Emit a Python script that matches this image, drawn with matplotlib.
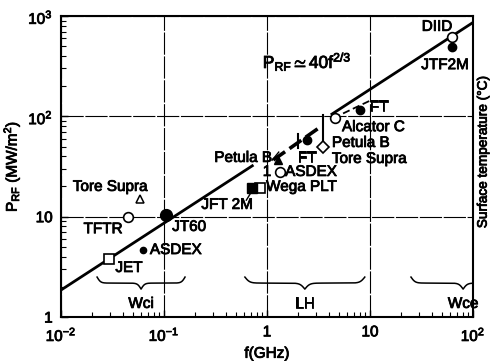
import numpy as np
import matplotlib.pyplot as plt
import matplotlib.patheffects as pe

plt.rcParams['font.family'] = ['Liberation Sans', 'DejaVu Sans']
plt.rcParams['mathtext.fontset'] = 'custom'
plt.rcParams['mathtext.rm'] = 'Liberation Sans'
plt.rcParams['mathtext.it'] = 'Liberation Sans'
plt.rcParams['mathtext.default'] = 'regular'
plt.rcParams['font.size'] = 11

# slightly heavier strokes for all text
heavy = [pe.withStroke(linewidth=0.6, foreground='k')]

# power density scaling P_RF ~ 40 f^(2/3)
fit_coef = 40.0
fit_exp = 2.0 / 3.0

# experiments: frequency (GHz), heat flux (MW/m^2)
open_circle_f = [0.045, 1.34, 4.57, 62.5]        # TFTR, ASDEX (LH), Alcator C, DIID
open_circle_p = [10.0, 28.0, 96.0, 620.0]
filled_circle_f = [0.105, 2.45, 8.0, 62.5]       # JT60, FT, FT, JTF2M
filled_circle_p = [10.5, 58.0, 116.0, 490.0]
asdex_icrf_f, asdex_icrf_p = 0.0625, 4.7
open_square_f = [0.029, 0.86]                    # JET, Wega PLT
open_square_p = [3.8, 19.5]
jft2m_f, jft2m_p = 0.72, 19.5
tore_icrf_f, tore_icrf_p = 0.058, 15.0
petula_lh_f, petula_lh_p = 1.28, 37.0
tore_lh_f, tore_lh_p = 3.5, 49.5

# ranges
ft_low_range_f = [1.15, 3.27]
ft_low_range_p = [36.7, 78.0]
ft_high_range_f = [4.4, 10.4]
ft_high_range_p = [96.0, 146.0]
ft_bar_f, ft_bar_p = 2.0, [48.0, 66.0]
petula_bar_f, petula_bar_p = 3.5, [52.0, 103.0]

x_ticks = [0.01, 0.1, 1, 10, 100]
x_tick_labels = ['$10^{-2}$', '$10^{-1}$', '1', '10', '$10^{2}$']
y_ticks = [1, 10, 100, 1000]
y_tick_labels = ['1', '10', '$10^{2}$', '$10^{3}$']

bands = ['Wci', 'LH', 'Wce']
band_lo = [0.0224, 0.61, 25.0]
band_hi = [0.16, 8.9, 257.0]


def brace(ax, f0, f1, p_top, depth=0.12, beta=50):
    u = np.linspace(0, 1, 401)
    uh = u[:201]
    yh = 1 / (1 + np.exp(-beta * (uh - uh[0]))) + 1 / (1 + np.exp(-beta * (uh - uh[-1])))
    y = np.concatenate([yh, yh[-2::-1]])
    logf = np.log10(f0) + u * np.log10(f1 / f0)
    logp = np.log10(p_top) - depth * (y - 0.5)
    ax.plot(10 ** logf, 10 ** logp, color='k', lw=1.1)


fig = plt.figure(figsize=(4.9, 3.61), dpi=100)
ax = fig.add_axes([0.1245, 0.1219, 0.8408, 0.8338])
ax.set_xscale('log')
ax.set_yscale('log')
ax.set_xlim(0.01, 100)
ax.set_ylim(1, 1000)

ax.grid(which='major', color='k', lw=0.8, ls=(0, (20, 1.5)))
for s in ax.spines.values():
    s.set_linewidth(1.5)

ax.set_xticks(x_ticks)
ax.set_xticklabels(x_tick_labels)
ax.set_yticks(y_ticks)
ax.set_yticklabels(y_tick_labels)
ax.tick_params(which='both', direction='in', top=False, right=False)
ax.tick_params(which='major', length=5, width=1.0, pad=6, labelsize=11)
ax.tick_params(which='minor', length=3.5, width=0.8)
for lab in ax.get_xticklabels() + ax.get_yticklabels():
    lab.set_path_effects(heavy)

# scaling line, broken where the data ranges sit
f_lo = np.logspace(-2, np.log10(0.72), 50)
f_hi = np.logspace(np.log10(4.27), 2, 50)
ax.plot(f_lo, fit_coef * f_lo ** fit_exp, color='k', lw=2.0)
ax.plot(f_hi, fit_coef * f_hi ** fit_exp, color='k', lw=2.0)
ax.plot(ft_low_range_f, ft_low_range_p, color='k', lw=2.6, ls=(0, (4, 1.5)))
ax.plot(ft_high_range_f, ft_high_range_p, color='k', lw=1.3, ls=(0, (4, 2)))
ax.plot([ft_bar_f, ft_bar_f], ft_bar_p, color='k', lw=1.5)
ax.plot([petula_bar_f, petula_bar_f], petula_bar_p, color='k', lw=1.5)

ax.plot(open_circle_f, open_circle_p, 'o', ms=7, mfc='white', mec='k', mew=1.2, ls='none')
ax.plot(filled_circle_f[0], filled_circle_p[0], 'o', ms=8.5, color='k')
ax.plot(filled_circle_f[1:], filled_circle_p[1:], 'o', ms=6, color='k', ls='none')
ax.plot(asdex_icrf_f, asdex_icrf_p, 'o', ms=4.5, color='k')
ax.plot(open_square_f, open_square_p, 's', ms=7, mfc='white', mec='k', mew=1.2, ls='none')
ax.plot(jft2m_f, jft2m_p, 's', ms=7, color='k')
ax.plot(tore_icrf_f, tore_icrf_p, '^', ms=6, mfc='white', mec='k', mew=1.1)
ax.plot(petula_lh_f, petula_lh_p, '^', ms=6, color='k')
ax.plot(tore_lh_f, tore_lh_p, 'D', ms=6, mfc='white', mec='k', mew=1.2)

# leaders
ax.plot([1.12, 1.30], [36.5, 44.0], color='k', lw=1.0)
ax.plot([0.63, 0.69], [14.6, 17.0], color='k', lw=1.0)

labels = [
    ('DIID', 44.7, 780, 'center'),
    ('JTF2M', 53.5, 324, 'center'),
    ('FT', 12.2, 124, 'center'),
    ('Alcator C', 5.35, 78, 'left'),
    ('Petula B', 4.27, 54.3, 'left'),
    ('Tore Supra', 4.27, 37.6, 'left'),
    ('FT', 2.44, 38.5, 'center'),
    ('Petula B', 1.12, 38.5, 'right'),
    ('ASDEX', 1.5, 27.9, 'left'),
    ('1', 1.0, 27.9, 'center'),
    ('Wega PLT', 0.98, 19.8, 'left'),
    ('JFT 2M', 0.41, 13.1, 'center'),
    ('Tore Supra', 0.030, 19.8, 'center'),
    ('TFTR', 0.0256, 7.5, 'center'),
    ('JT60', 0.12, 7.9, 'left'),
    ('ASDEX', 0.073, 4.65, 'left'),
    ('JET', 0.0457, 3.08, 'center'),
]
for txt, x, y, ha in labels:
    ax.text(x, y, txt, ha=ha, va='center', fontsize=11, path_effects=heavy)

ax.text(0.91, 348, r'$P_{RF}\simeq 40f^{2/3}$', ha='left', va='center', fontsize=12.5,
        path_effects=heavy)

for name, lo, hi in zip(bands, band_lo, band_hi):
    brace(ax, lo, hi, 2.5)
    ax.text(np.sqrt(lo * hi), 1.35, name, ha='center', va='center', fontsize=11,
            path_effects=heavy)

ax.set_xlabel('f(GHz)', fontsize=11, labelpad=2, path_effects=heavy)
ax.set_ylabel('$P_{RF}$ (MW/m$^2$)', fontsize=11, labelpad=4, path_effects=heavy)
fig.text(0.985, 0.58, 'Surface temperature (\u00b0C)', rotation=90, ha='center', va='center',
         fontsize=9.8, path_effects=heavy)

fig.savefig('out.png', dpi=100)
